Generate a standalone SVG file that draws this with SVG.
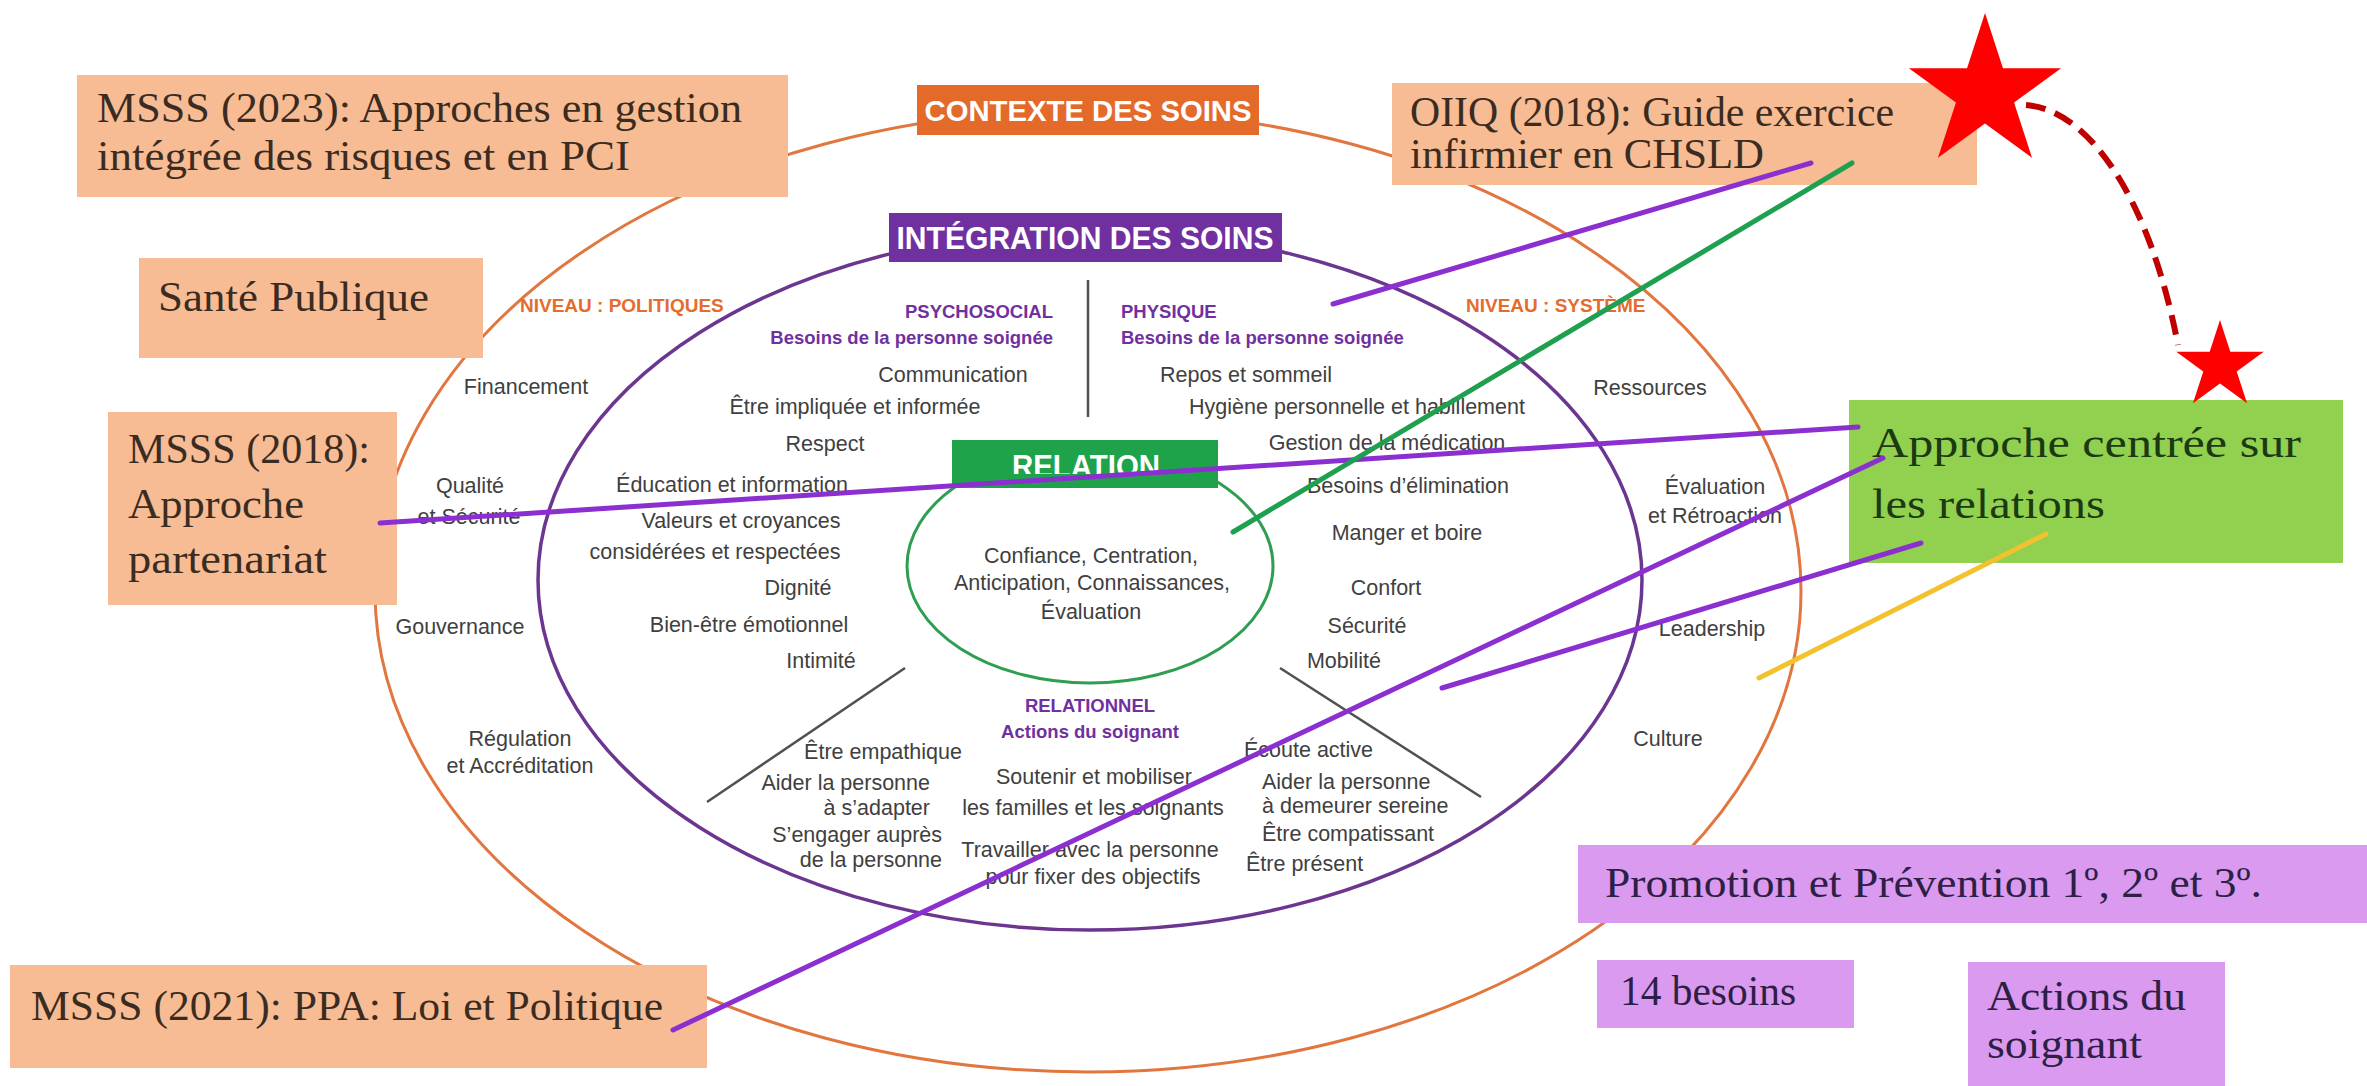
<svg xmlns="http://www.w3.org/2000/svg" width="2367" height="1086" viewBox="0 0 2367 1086">
<defs>
<style>
.t{font-family:"Liberation Sans",Arial,sans-serif;font-size:21.5px;fill:#404040}
.m{text-anchor:middle}
.e{text-anchor:end}
.hb{font-family:"Liberation Sans",Arial,sans-serif;font-weight:bold;font-size:18.5px;fill:#7030A0}
.niv{font-family:"Liberation Sans",Arial,sans-serif;font-weight:bold;font-size:19px;fill:#E46C2C}
.lab{font-family:"Liberation Sans",Arial,sans-serif;font-weight:bold;fill:#FFFFFF;text-anchor:middle}
.bx{font-family:"Liberation Serif","Times New Roman",serif;font-size:42px}
.peach{fill:#F8BC95}
.peacht{fill:#3B2C22}
.lilac{fill:#D99AEF}
.lilact{fill:#2D1F45}
.conn{fill:none;stroke-width:5;stroke-linecap:round}
.div{stroke:#505050;stroke-width:2.5;fill:none}
</style>
<polygon id="star" points="0,-100 22.45,-30.9 95.11,-30.9 36.33,11.8 58.78,80.9 0,38.2 -58.78,80.9 -36.33,11.8 -95.11,-30.9 -22.45,-30.9" fill="#FF0000"/>
<clipPath id="relclip"><rect x="952" y="440" width="266" height="34"/></clipPath>
</defs>
<rect width="2367" height="1086" fill="#FFFFFF"/>

<g id="contexte">
<ellipse cx="1088" cy="591" rx="713" ry="481" fill="none" stroke="#E2763F" stroke-width="3"/>
<text class="niv" x="520" y="312">NIVEAU : POLITIQUES</text>
<text class="niv" x="1466" y="312">NIVEAU : SYSTÈME</text>
<text class="t m" x="526" y="394">Financement</text>
<text class="t m" x="470" y="493">Qualité</text>
<text class="t m" x="469" y="524">et Sécurité</text>
<text class="t m" x="460" y="634">Gouvernance</text>
<text class="t m" x="520" y="746">Régulation</text>
<text class="t m" x="520" y="773">et Accréditation</text>
<text class="t m" x="1650" y="395">Ressources</text>
<text class="t m" x="1715" y="494">Évaluation</text>
<text class="t m" x="1715" y="523">et Rétroaction</text>
<text class="t m" x="1712" y="636">Leadership</text>
<text class="t m" x="1668" y="746">Culture</text>
<rect x="917" y="85" width="342" height="50" fill="#E46A2A"/>
<text class="lab" x="1088" y="121" font-size="30" textLength="327" lengthAdjust="spacingAndGlyphs">CONTEXTE DES SOINS</text>
</g>

<g id="integration">
<ellipse cx="1090" cy="580" rx="552" ry="350" fill="none" stroke="#6B3590" stroke-width="3.5"/>
<line class="div" x1="1088" y1="280" x2="1088" y2="417"/>
<line class="div" x1="905" y1="668" x2="707" y2="802"/>
<line class="div" x1="1280" y1="668" x2="1481" y2="797"/>
<text class="hb e" x="1053" y="318">PSYCHOSOCIAL</text>
<text class="hb e" x="1053" y="344" font-size="17">Besoins de la personne soignée</text>
<text class="hb" x="1121" y="318">PHYSIQUE</text>
<text class="hb" x="1121" y="344" font-size="17">Besoins de la personne soignée</text>
<text class="t m" x="953" y="382">Communication</text>
<text class="t m" x="855" y="414">Être impliquée et informée</text>
<text class="t m" x="825" y="451">Respect</text>
<text class="t m" x="732" y="492">Éducation et information</text>
<text class="t m" x="741" y="528">Valeurs et croyances</text>
<text class="t m" x="715" y="559">considérées et respectées</text>
<text class="t m" x="798" y="595">Dignité</text>
<text class="t m" x="749" y="632">Bien-être émotionnel</text>
<text class="t m" x="821" y="668">Intimité</text>
<text class="t m" x="1246" y="382">Repos et sommeil</text>
<text class="t m" x="1357" y="414">Hygiène personnelle et habillement</text>
<text class="t m" x="1387" y="450">Gestion de la médication</text>
<text class="t m" x="1408" y="493">Besoins d’élimination</text>
<text class="t m" x="1407" y="540">Manger et boire</text>
<text class="t m" x="1386" y="595">Confort</text>
<text class="t m" x="1367" y="633">Sécurité</text>
<text class="t m" x="1344" y="668">Mobilité</text>
<text class="hb m" x="1090" y="712">RELATIONNEL</text>
<text class="hb m" x="1090" y="738" font-size="17.5">Actions du soignant</text>
<text class="t m" x="883" y="759">Être empathique</text>
<text class="t e" x="930" y="790">Aider la personne</text>
<text class="t e" x="930" y="815">à s’adapter</text>
<text class="t e" x="942" y="842">S’engager auprès</text>
<text class="t e" x="942" y="867">de la personne</text>
<text class="t m" x="1094" y="784">Soutenir et mobiliser</text>
<text class="t m" x="1093" y="815">les familles et les soignants</text>
<text class="t m" x="1090" y="857">Travailler avec la personne</text>
<text class="t m" x="1093" y="884">pour fixer des objectifs</text>
<text class="t" x="1244" y="757">Écoute active</text>
<text class="t" x="1262" y="789">Aider la personne</text>
<text class="t" x="1262" y="813">à demeurer sereine</text>
<text class="t" x="1262" y="841">Être compatissant</text>
<text class="t" x="1246" y="871">Être présent</text>
<rect x="889" y="213" width="393" height="49" fill="#7030A0"/>
<text class="lab" x="1085" y="249" font-size="31" textLength="377" lengthAdjust="spacingAndGlyphs">INTÉGRATION DES SOINS</text>
</g>

<g id="relation">
<ellipse cx="1090" cy="566" rx="183" ry="117" fill="none" stroke="#2E9E50" stroke-width="3"/>
<text class="t m" x="1091" y="563">Confiance, Centration,</text>
<text class="t m" x="1092" y="590">Anticipation, Connaissances,</text>
<text class="t m" x="1091" y="619">Évaluation</text>
<rect x="952" y="440" width="266" height="48" fill="#1FA34A"/>
<text class="lab" x="1086" y="477" font-size="31" textLength="148" lengthAdjust="spacingAndGlyphs" clip-path="url(#relclip)">RELATION</text>
</g>

<g id="msss2023">
<rect class="peach" x="77" y="75" width="711" height="122"/>
<text class="bx peacht" x="97" y="122" textLength="645" lengthAdjust="spacingAndGlyphs">MSSS (2023): Approches en gestion</text>
<text class="bx peacht" x="97" y="170" textLength="533" lengthAdjust="spacingAndGlyphs">intégrée des risques et en PCI</text>
</g>
<g id="sante-publique">
<rect class="peach" x="139" y="258" width="344" height="100"/>
<text class="bx peacht" x="158" y="311" font-size="44" textLength="271" lengthAdjust="spacingAndGlyphs">Santé Publique</text>
</g>
<g id="oiiq2018">
<rect class="peach" x="1392" y="83" width="585" height="102"/>
<text class="bx peacht" x="1410" y="126" font-size="36" textLength="484" lengthAdjust="spacingAndGlyphs">OIIQ (2018): Guide exercice</text>
<text class="bx peacht" x="1410" y="168" font-size="36" textLength="354" lengthAdjust="spacingAndGlyphs">infirmier en CHSLD</text>
</g>
<g id="msss2018">
<rect class="peach" x="108" y="412" width="289" height="193"/>
<text class="bx peacht" x="128" y="463" textLength="242" lengthAdjust="spacingAndGlyphs">MSSS (2018):</text>
<text class="bx peacht" x="128" y="518" textLength="176" lengthAdjust="spacingAndGlyphs">Approche</text>
<text class="bx peacht" x="128" y="573" textLength="199" lengthAdjust="spacingAndGlyphs">partenariat</text>
</g>
<g id="msss2021">
<rect class="peach" x="10" y="965" width="697" height="103"/>
<text class="bx peacht" x="31" y="1020" textLength="632" lengthAdjust="spacingAndGlyphs">MSSS (2021): PPA: Loi et Politique</text>
</g>
<g id="approche-relations">
<rect x="1849" y="400" width="494" height="163" fill="#92D050"/>
<text class="bx" x="1872" y="457" font-size="48" fill="#1B3A12" textLength="429" lengthAdjust="spacingAndGlyphs">Approche centrée sur</text>
<text class="bx" x="1872" y="518" font-size="48" fill="#1B3A12" textLength="233" lengthAdjust="spacingAndGlyphs">les relations</text>
</g>
<g id="promotion">
<rect class="lilac" x="1578" y="845" width="789" height="78"/>
<text class="bx lilact" x="1605" y="897" textLength="657" lengthAdjust="spacingAndGlyphs">Promotion et Prévention 1º, 2º et 3º.</text>
</g>
<g id="besoins14">
<rect class="lilac" x="1597" y="960" width="257" height="68"/>
<text class="bx lilact" x="1620" y="1005" textLength="176" lengthAdjust="spacingAndGlyphs">14 besoins</text>
</g>
<g id="actions-soignant">
<rect class="lilac" x="1968" y="962" width="257" height="124"/>
<text class="bx lilact" x="1987" y="1010" textLength="199" lengthAdjust="spacingAndGlyphs">Actions du</text>
<text class="bx lilact" x="1987" y="1058" textLength="155" lengthAdjust="spacingAndGlyphs">soignant</text>
</g>
<g id="star-big">
<use href="#star" transform="translate(1985,93) scale(0.8)"/>
</g>
<g id="star-small">
<use href="#star" transform="translate(2220,366) scale(0.46)"/>
</g>

<g id="connectors">
<line class="conn" x1="380" y1="523" x2="1858" y2="427" stroke="#8C2FD0"/>
<line class="conn" x1="1811" y1="163" x2="1333" y2="304" stroke="#8C2FD0"/>
<line class="conn" x1="1852" y1="163" x2="1233" y2="532" stroke="#1FA050"/>
<line class="conn" x1="1883" y1="458" x2="673" y2="1030" stroke="#8C2FD0"/>
<line class="conn" x1="1921" y1="543" x2="1442" y2="688" stroke="#8C2FD0"/>
<line class="conn" x1="2046" y1="534" x2="1759" y2="678" stroke="#F2C12E"/>
<path d="M2026,105 C2090,110 2150,200 2178,345" fill="none" stroke="#C00000" stroke-width="6" stroke-dasharray="20,10"/>
</g>
</svg>
